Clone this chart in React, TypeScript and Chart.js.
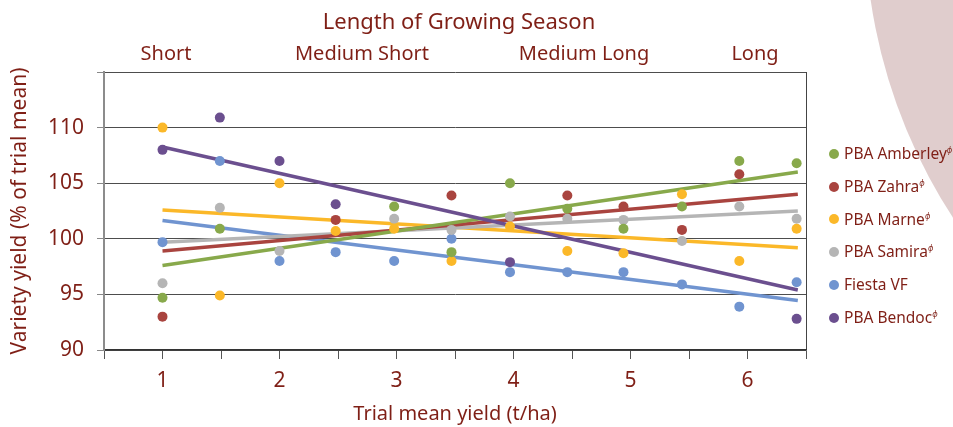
import React, { useEffect, useRef } from 'react';
import { Chart, registerables } from 'chart.js';

Chart.register(...registerables);

// ---- data ----
const siteYield = [1.0, 1.49, 2.0, 2.48, 2.98, 3.47, 3.97, 4.46, 4.94, 5.44, 5.93, 6.42];
const seriesNames = ['PBA Amberley', 'PBA Zahra', 'PBA Marne', 'PBA Samira', 'Fiesta VF', 'PBA Bendoc'];
const seriesPbr = [true, true, true, true, false, true];
const seriesColors = ['#88a94b', '#a9443f', '#fbb829', '#b5b5b5', '#7094d0', '#6b4f8f'];

const amberley = [94.7, 100.9, null, null, 102.9, 98.8, 105.0, 102.7, 100.9, 102.9, 107.0, 106.8];
const zahra = [93.0, null, null, 101.7, null, 103.9, null, 103.9, 102.9, 100.8, 105.8, null];
const marne = [110.0, 94.9, 105.0, 100.7, 100.9, 98.0, 101.1, 98.9, 98.7, 104.0, 98.0, 100.9];
const samira = [96.0, 102.8, 98.9, null, 101.8, 100.8, 102.0, 101.8, 101.7, 99.8, 102.9, 101.8];
const fiesta = [99.7, 107.0, 98.0, 98.8, 98.0, 100.0, 97.0, 97.0, 97.0, 95.9, 93.9, 96.1];
const bendoc = [108.0, 110.9, 107.0, 103.1, null, null, 97.9, null, null, null, null, 92.8];

const trendX = [1.0, 6.43];
const amberleyTrend = [97.6, 106.0];
const zahraTrend = [98.9, 104.0];
const marneTrend = [102.6, 99.2];
const samiraTrend = [99.7, 102.5];
const fiestaTrend = [101.65, 94.45];
const bendocTrend = [108.25, 95.4];

const seriesValues = [amberley, zahra, marne, samira, fiesta, bendoc];
const seriesTrends = [amberleyTrend, zahraTrend, marneTrend, samiraTrend, fiestaTrend, bendocTrend];
const trendOrder = [3, 4, 6, 5, 7, 2];

const seasonTitle = 'Length of Growing Season';
const seasonLabels = ['Short', 'Medium Short', 'Medium Long', 'Long'];
const seasonCenters = [166, 362, 584, 755];

const yTitle = 'Variety yield (% of trial mean)';
const xTitle = 'Trial mean yield (t/ha)';

const TEXT = '#7f1f16';
const FONT = "'Noto Sans', 'Open Sans', sans-serif";

export default function App() {
  const canvasRef = useRef<HTMLCanvasElement | null>(null);

  useEffect(() => {
    if (!canvasRef.current) return;
    const datasets: any[] = [];
    seriesNames.forEach((name, s) => {
      datasets.push({
        type: 'scatter',
        label: name,
        data: siteYield
          .map((x, i) => ({ x, y: seriesValues[s][i] }))
          .filter((p) => p.y !== null),
        backgroundColor: seriesColors[s],
        borderWidth: 0,
        pointRadius: 5,
        showLine: false,
        order: 0,
      });
    });
    seriesNames.forEach((name, s) => {
      datasets.push({
        type: 'line',
        label: name + ' trend',
        data: trendX.map((x, i) => ({ x, y: seriesTrends[s][i] })),
        borderColor: seriesColors[s],
        borderWidth: 3.5,
        pointRadius: 0,
        fill: false,
        order: trendOrder[s],
      });
    });

    const chart = new Chart(canvasRef.current, {
      type: 'scatter',
      data: { datasets },
      options: {
        animation: false,
        responsive: false,
        devicePixelRatio: 1,
        layout: { padding: { left: 0, top: 72, right: 147, bottom: 0 } },
        plugins: { legend: { display: false }, tooltip: { enabled: false } },
        scales: {
          x: {
            type: 'linear',
            min: 0.5,
            max: 6.5,
            afterFit: (scale: any) => {
              scale.height = 77;
            },
            ticks: {
              stepSize: 0.5,
              autoSkip: false,
              maxRotation: 0,
              padding: 9,
              color: TEXT,
              font: { family: FONT, size: 21 },
              callback: (v: any) => (Number.isInteger(Number(v)) ? String(v) : ''),
            },
            grid: {
              drawOnChartArea: true,
              color: (ctx: any) => (ctx.tick && ctx.tick.value === 6.5 ? '#444444' : 'rgba(0,0,0,0)'),
              tickColor: '#555555',
              tickLength: 9,
              lineWidth: 1,
            },
            border: { display: true, color: '#333333', width: 1.5 },
            title: {
              display: true,
              text: xTitle,
              color: TEXT,
              font: { family: FONT, size: 20 },
              padding: { top: 0, bottom: 1 },
            },
          },
          y: {
            type: 'linear',
            min: 90,
            max: 115,
            afterFit: (scale: any) => {
              scale.width = 104;
            },
            ticks: {
              stepSize: 5,
              padding: 13,
              color: TEXT,
              font: { family: FONT, size: 21 },
              callback: (v: any) => (Number(v) === 115 ? '' : String(v)),
            },
            grid: {
              color: '#4d4d4d',
              tickColor: '#888888',
              tickLength: 7,
              lineWidth: 1,
            },
            border: { display: true, color: '#8c8c8c', width: 2 },
            title: {
              display: true,
              text: yTitle,
              color: TEXT,
              font: { family: FONT, size: 21 },
              padding: { top: 7, bottom: 0 },
            },
          },
        },
      },
    });
    return () => chart.destroy();
  }, []);

  return (
    <div
      style={{
        position: 'fixed',
        left: 0,
        top: 0,
        width: 953,
        height: 427,
        overflow: 'hidden',
        background: '#ffffff',
        fontFamily: FONT,
        color: TEXT,
      }}
    >
      <div
        style={{
          position: 'absolute',
          left: 865,
          top: -619,
          width: 1082,
          height: 1082,
          borderRadius: '50%',
          background: '#e0cdcd',
        }}
      />
      <canvas
        ref={canvasRef}
        width={953}
        height={427}
        style={{ position: 'absolute', left: 0, top: 0, width: 953, height: 427 }}
      />
      <div
        style={{
          position: 'absolute',
          left: 459,
          top: 9,
          transform: 'translateX(-50%)',
          fontSize: 22,
          lineHeight: 1,
          whiteSpace: 'nowrap',
        }}
      >
        {seasonTitle}
      </div>
      {seasonLabels.map((t, i) => (
        <div
          key={t}
          style={{
            position: 'absolute',
            left: seasonCenters[i],
            top: 43,
            transform: 'translateX(-50%)',
            fontSize: 20,
            lineHeight: 1,
            whiteSpace: 'nowrap',
          }}
        >
          {t}
        </div>
      ))}
      {seriesNames.map((name, s) => (
        <div
          key={name}
          style={{
            position: 'absolute',
            left: 829,
            top: 154 + s * 32.7 - 10,
            height: 20,
            display: 'flex',
            alignItems: 'center',
            whiteSpace: 'nowrap',
          }}
        >
          <span
            style={{
              width: 10,
              height: 10,
              borderRadius: '50%',
              background: seriesColors[s],
              marginRight: 5,
              flex: '0 0 auto',
            }}
          />
          <span style={{ fontSize: 15.5, lineHeight: 1 }}>
            {name}
            {seriesPbr[s] ? (
              <span style={{ fontSize: 8, verticalAlign: 6, fontStyle: 'italic' }}>ɸ</span>
            ) : null}
          </span>
        </div>
      ))}
    </div>
  );
}
